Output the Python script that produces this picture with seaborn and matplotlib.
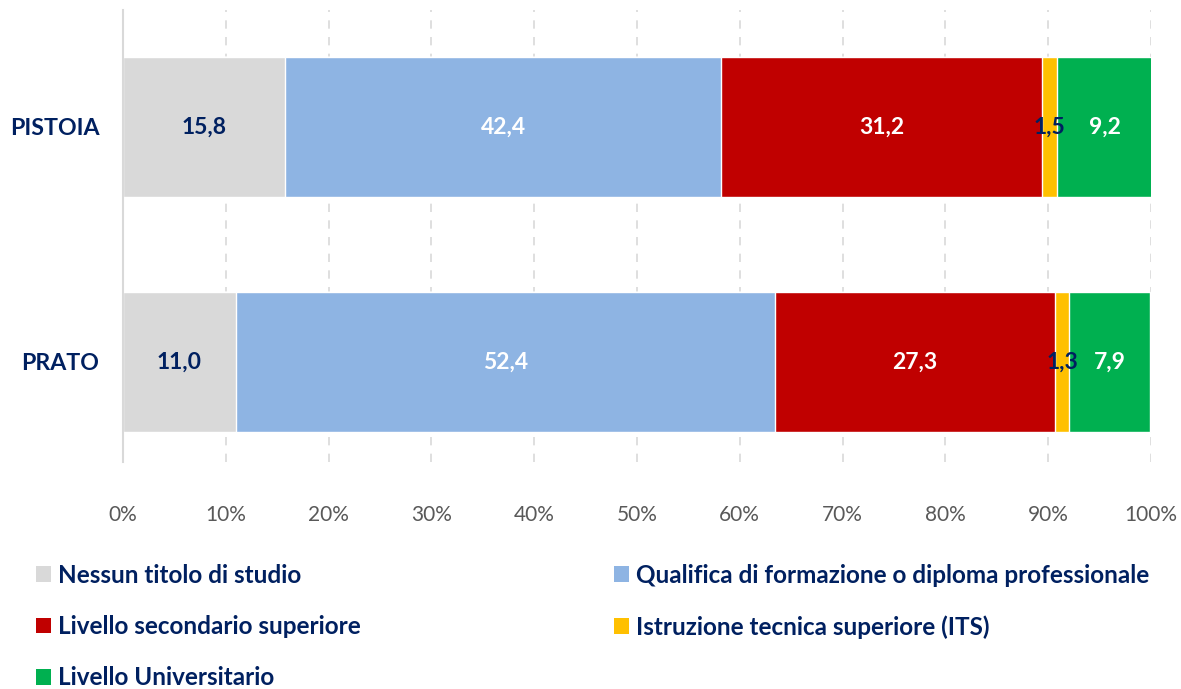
import pandas as pd
import seaborn as sns
import matplotlib.pyplot as plt
from matplotlib.patches import Patch
from matplotlib.ticker import FuncFormatter

# data
provinces = ["PISTOIA", "PRATO"]
levels = ["Nessun titolo di studio",
          "Qualifica di formazione o diploma professionale",
          "Livello secondario superiore",
          "Istruzione tecnica superiore (ITS)",
          "Livello Universitario"]
nessun = [15.8, 11.0]
qualifica = [42.4, 52.4]
secondario = [31.2, 27.3]
its = [1.5, 1.3]
universitario = [9.2, 7.9]

colors = ["#D9D9D9", "#8EB4E3", "#C00000", "#FFC000", "#00B050"]
label_colors = ["#002060", "white", "white", "#002060", "white"]
NAVY = "#002060"

series = [nessun, qualifica, secondario, its, universitario]
df = pd.DataFrame({lvl: vals for lvl, vals in zip(levels, series)}, index=provinces)
cum = df.cumsum(axis=1)

sns.set_theme(style="white")
plt.rcParams["font.family"] = ["Lato", "DejaVu Sans"]

fig = plt.figure(figsize=(11.81, 6.89), dpi=100)
ax = fig.add_axes([123 / 1181, 1 - 462 / 689, 1028 / 1181, 452 / 689])

# stacked bars: draw cumulative totals from last to first
for i in range(len(levels) - 1, -1, -1):
    d = pd.DataFrame({"prov": provinces, "val": cum[levels[i]].values})
    sns.barplot(data=d, x="val", y="prov", orient="h", color=colors[i],
                saturation=1, width=0.596, ax=ax, zorder=3)

# value labels
for j, prov in enumerate(provinces):
    for i, lvl in enumerate(levels):
        v = df.loc[prov, lvl]
        mid = cum.loc[prov, lvl] - v / 2
        ax.text(mid, j, f"{v:.1f}".replace(".", ","), ha="center", va="center",
                color=label_colors[i], fontsize=16.5, fontweight="bold", zorder=5)

ax.set_xlim(0, 100)
ax.set_ylim(1.426, -0.498)
ax.set_xticks(range(0, 101, 10))
ax.xaxis.set_major_formatter(FuncFormatter(lambda x, p: f"{int(x)}%"))
ax.grid(axis="x", color="#D9D9D9", linestyle=(0, (5, 5)), linewidth=1.2, zorder=0)
ax.grid(axis="y", visible=False)
for s in ["top", "right", "bottom"]:
    ax.spines[s].set_visible(False)
ax.spines["left"].set_color("#D9D9D9")
ax.spines["left"].set_linewidth(1.5)
ax.spines["left"].set_zorder(4)
ax.tick_params(axis="x", length=0, pad=31, labelsize=15, labelcolor="#595959")
ax.tick_params(axis="y", length=0, pad=17)
for t in ax.get_yticklabels():
    t.set_fontsize(16.7)
    t.set_fontweight("bold")
    t.set_color(NAVY)
ax.set_xlabel("")
ax.set_ylabel("")

# legend (row-wise order like the original)
handles = [Patch(facecolor=c, edgecolor="none") for c in colors]
order = [0, 2, 4, 1, 3]
leg = fig.legend([handles[k] for k in order], [levels[k] for k in order],
                 ncol=2, loc="upper left", bbox_to_anchor=(14 / 1181, 1 - 542 / 689),
                 frameon=False, handlelength=0.62, handleheight=0.62,
                 handletextpad=0.3, columnspacing=10.4, labelspacing=1.16,
                 prop={"size": 17.5, "weight": "bold"})
for t in leg.get_texts():
    t.set_color(NAVY)

fig.savefig("out.png", dpi=100)
